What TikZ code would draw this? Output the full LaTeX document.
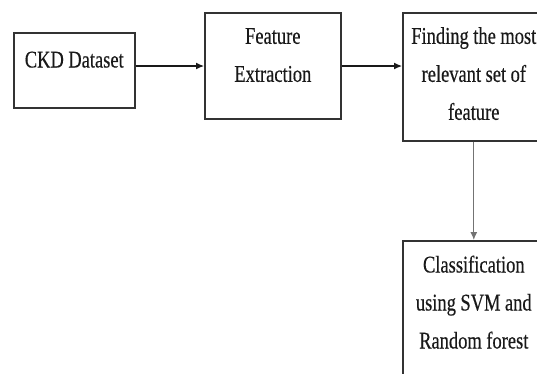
\documentclass[tikz,border=0pt]{standalone}
\usepackage{fontspec}
\setmainfont{Liberation Serif}[FakeStretch=0.77, FakeBold=0.4]
\usetikzlibrary{shapes,arrows,arrows.meta,positioning}
\newcommand\letracaja{\fontsize{24}{38}\selectfont\spaceskip=4.5pt\relax\xspaceskip=4.5pt\relax}
\tikzset{
  caja/.style={draw=black!80, line width=1.6pt, inner sep=0pt, align=flush center,
    anchor=north west, text=black!90, font=\letracaja},
  flecha/.style={-{Latex[length=8pt,width=7pt]}, line width=1.2pt, draw=black!90}
}
\begin{document}
\begin{tikzpicture}[x=1pt,y=-1pt]
		\clip (0,0) rectangle (537,373);
		% cajas
		\node[caja, text width=121pt, text height=34.7pt, text depth=40.3pt] (ckd) at (13,32) {CKD Dataset};
		\node[caja, text width=136pt, text height=31pt, text depth=75pt] (feat) at (204,12) {Feature\\Extraction};
		\node[caja, text width=142pt, text height=31pt, text depth=97pt] (rel) at (402,12) {Finding the most\\relevant set of\\feature};
		\node[caja, text width=142pt, text height=31.7pt, text depth=150pt] (cls) at (402,240) {Classification\\using SVM and\\Random forest};
		% flechas
		\draw[flecha] (ckd.east |- 0,66) -- (feat.west |- 0,66);
		\draw[flecha] (feat.east |- 0,66) -- (rel.west |- 0,66);
		\draw[flecha, draw=black!55, fill=black!80] (rel.south) -- (cls.north);
\end{tikzpicture}
\end{document}
